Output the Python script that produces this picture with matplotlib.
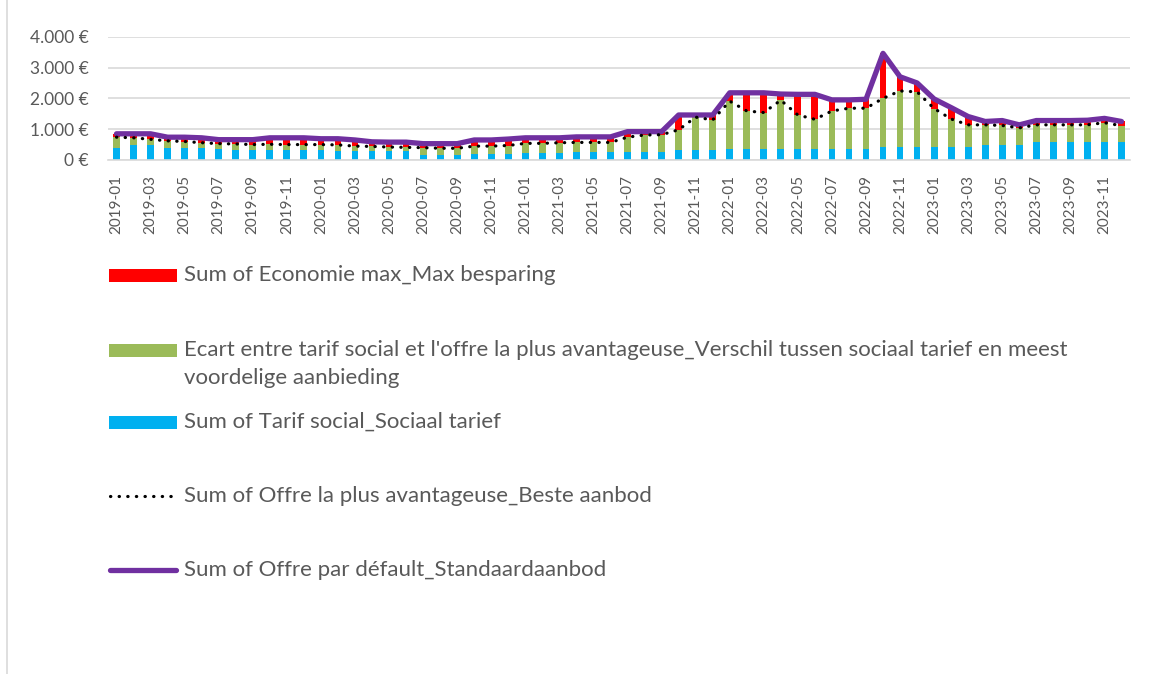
import matplotlib
matplotlib.use('Agg')
import numpy as np
import matplotlib.pyplot as plt
from matplotlib.lines import Line2D
from matplotlib.patches import Rectangle
from matplotlib.ticker import FuncFormatter

plt.rcParams['font.family'] = ['Lato', 'DejaVu Sans']

# --- Données (EUR / an) ---
mois = [f"{a}-{m:02d}" for a in range(2019, 2024) for m in range(1, 13)]

tarif_social = [
    380, 490, 490, 380, 380, 380, 360, 330, 330, 330, 330, 330,
    330, 300, 300, 300, 300, 300, 165, 165, 165, 200, 200, 200,
    240, 240, 240, 270, 270, 270, 270, 270, 270, 320, 320, 330,
    345, 345, 345, 345, 345, 345, 365, 365, 365, 410, 410, 410,
    430, 430, 435, 490, 490, 490, 580, 580, 580, 580, 590, 590,
]
offre_avantageuse = [
    740, 720, 670, 620, 600, 560, 530, 520, 500, 510, 500, 500,
    500, 490, 450, 440, 420, 410, 400, 380, 380, 450, 450, 470,
    540, 540, 560, 570, 570, 570, 740, 810, 820, 980, 1390, 1300,
    1910, 1590, 1540, 1940, 1460, 1320, 1590, 1680, 1680, 2000, 2240, 2210,
    1670, 1330, 1140, 1140, 1120, 1040, 1140, 1140, 1140, 1140, 1210, 1110,
]
offre_defaut = [
    850, 850, 850, 740, 740, 720, 660, 660, 660, 720, 720, 720,
    690, 690, 650, 590, 580, 580, 530, 530, 530, 650, 650, 680,
    720, 720, 720, 750, 750, 750, 920, 920, 920, 1460, 1460, 1460,
    2180, 2180, 2180, 2140, 2130, 2130, 1950, 1950, 1970, 3460, 2700, 2500,
    1980, 1700, 1410, 1250, 1280, 1140, 1280, 1280, 1280, 1290, 1350, 1250,
]

labels = [
    "Sum of Economie max_Max besparing",
    "Ecart entre tarif social et l'offre la plus avantageuse_Verschil tussen sociaal tarief en meest\nvoordelige aanbieding",
    "Sum of Tarif social_Sociaal tarief",
    "Sum of Offre la plus avantageuse_Beste aanbod",
    "Sum of Offre par défault_Standaardaanbod",
]

ROUGE = '#FF0000'
VERT = '#9BBB59'
BLEU = '#00B0F0'
VIOLET = '#7030A0'
GRIS = '#595959'
GRILLE = '#D9D9D9'

W, H = 1151, 674
fig = plt.figure(figsize=(W / 100, H / 100), dpi=100)
ax = fig.add_axes([108 / W, 1 - 160 / H, (1130 - 108) / W, (160 - 36.7) / H])

x = np.arange(len(mois))
social = np.array(tarif_social)
best = np.array(offre_avantageuse)
defaut = np.array(offre_defaut)

ax.bar(x, social, width=0.4, color=BLEU, zorder=2)
ax.bar(x, best - social, bottom=social, width=0.4, color=VERT, zorder=2)
ax.bar(x, defaut - best, bottom=best, width=0.4, color=ROUGE, zorder=2)
ax.plot(x, defaut, color=VIOLET, lw=3.8, solid_joinstyle='round', solid_capstyle='round', zorder=3)
ax.plot(x, best, color='black', lw=2.3, linestyle=(0, (0.1, 2.6)), dash_capstyle='round', zorder=4)

ax.set_xlim(-0.5, len(mois) - 0.5)
ax.set_ylim(0, 4000)
ax.set_yticks(range(0, 4001, 1000))
ax.yaxis.set_major_formatter(FuncFormatter(lambda v, p: f"{int(v):,}".replace(',', '.') + " €"))
ax.set_xticks(x[::2])
ax.set_xticklabels(mois[::2], rotation=90)
ax.grid(axis='y', color=GRILLE, lw=1.2, zorder=0)
ax.set_axisbelow(True)
for s in ['top', 'right', 'left']:
    ax.spines[s].set_visible(False)
ax.spines['bottom'].set_color(GRILLE)
ax.spines['bottom'].set_linewidth(1.2)
ax.tick_params(axis='y', length=0, pad=14, labelsize=12.5, labelcolor=GRIS)
ax.tick_params(axis='x', length=0, pad=10.5, labelsize=11, labelcolor=GRIS)


# --- Légende manuelle (coordonnées en pixels) ---
def fx(px):
    return px / W


def fy(py):
    return 1 - py / H


taille_leg = 16
for col, yc in [(ROUGE, 275), (VERT, 350), (BLEU, 422)]:
    fig.add_artist(Rectangle((fx(109), fy(yc + 6.5)), fx(177) - fx(109), 13 / H,
                             transform=fig.transFigure, color=col, lw=0))
fig.add_artist(Line2D([fx(110), fx(176)], [fy(496), fy(496)], transform=fig.transFigure,
                      color='black', lw=2.3, linestyle=(0, (0.1, 2.6)), dash_capstyle='round'))
fig.add_artist(Line2D([fx(110), fx(176)], [fy(570), fy(570)], transform=fig.transFigure,
                      color=VIOLET, lw=3.8, solid_capstyle='round'))

lignes_vert = labels[1].split('\n')
fig.text(fx(184), fy(275), labels[0], fontsize=taille_leg, color=GRIS, va='center')
fig.text(fx(184), fy(350), lignes_vert[0], fontsize=taille_leg, color=GRIS, va='center')
fig.text(fx(184), fy(378), lignes_vert[1], fontsize=taille_leg, color=GRIS, va='center')
fig.text(fx(184), fy(422), labels[2], fontsize=taille_leg, color=GRIS, va='center')
fig.text(fx(184), fy(496), labels[3], fontsize=taille_leg, color=GRIS, va='center')
fig.text(fx(184), fy(570), labels[4], fontsize=taille_leg, color=GRIS, va='center')

# bord gauche du cadre
fig.add_artist(Line2D([fx(7), fx(7)], [0, 1], transform=fig.transFigure, color=GRILLE, lw=1.2))

fig.savefig('out.png', dpi=100)
